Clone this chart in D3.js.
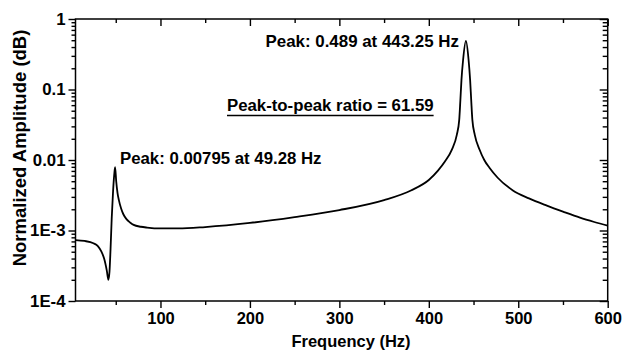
<!DOCTYPE html>
<html><head><meta charset="utf-8">
<script src="https://cdn.jsdelivr.net/npm/d3@7"></script>
<style>
html,body{margin:0;padding:0;background:#fff;}
svg text{font-family:"Liberation Sans",Arial,sans-serif;font-weight:bold;fill:#000;}
</style></head>
<body>
<svg id="chart" width="626" height="356"></svg>
<script>
// ---- data ----
const freq = [5, 15, 25, 30, 34, 37, 40, 41.8, 43, 44.2, 45.5, 47, 48.3, 49.28, 50.5, 52, 53.5, 56, 58.5, 62, 66, 70, 78, 85, 100, 120, 150, 200, 250, 300, 350, 380, 400, 410, 418, 425.8, 431.3, 434, 435.3, 436.5, 438.3, 441.5, 444.5, 446.2, 447.4, 448.7, 451.4, 456.8, 462, 468, 477, 494, 512, 532, 550, 569, 585, 600];
const amp  = [7.3e-4, 7.1e-4, 6.6e-4, 6.0e-4, 5.0e-4, 4.0e-4, 2.7e-4, 2.0e-4, 2.6e-4, 5.5e-4, 1.5e-3, 3.6e-3, 6.2e-3, 7.9e-3, 5.0e-3, 3.4e-3, 2.7e-3, 2.05e-3, 1.7e-3, 1.45e-3, 1.3e-3, 1.2e-3, 1.13e-3, 1.1e-3, 1.07e-3, 1.07e-3, 1.12e-3, 1.28e-3, 1.55e-3, 1.95e-3, 2.7e-3, 3.7e-3, 5.2e-3, 7.0e-3, 9.5e-3, 1.4e-2, 2.27e-2, 3.7e-2, 7.1e-2, 1.36e-1, 2.6e-1, 4.89e-1, 2.6e-1, 1.36e-1, 7.1e-2, 3.7e-2, 2.27e-2, 1.4e-2, 1.0e-2, 7.7e-3, 5.6e-3, 3.7e-3, 2.85e-3, 2.25e-3, 1.85e-3, 1.52e-3, 1.32e-3, 1.17e-3];
const xMajorTicks = [100, 200, 300, 400, 500, 600];
const xMinorTicks = [50, 150, 250, 350, 450, 550];
const yMajorTicks = [1e-4, 1e-3, 1e-2, 1e-1, 1];
const yTickLabels = ["1E-4", "1E-3", "0.01", "0.1", "1"];
const xTitle = "Frequency (Hz)";
const yTitle = "Normalized Amplitude (dB)";
const annotationTexts = ["Peak: 0.489 at 443.25 Hz", "Peak-to-peak ratio = 61.59", "Peak: 0.00795 at 49.28 Hz"];

// ---- layout ----
const L = 75.5, R = 607.7, T = 19, B = 301;
const svg = d3.select("#chart");
const x = d3.scaleLinear().domain([5, 600]).range([L, R]);
const y = d3.scaleLog().domain([1e-4, 1]).range([B, T]);

const yMinor = [];
for (let e = -4; e < 0; e++) for (let k = 2; k <= 9; k++) yMinor.push(k * Math.pow(10, e));

const g = svg.append("g");

// bottom axis (outward ticks)
const axB = g.append("g").attr("transform", `translate(0,${B})`);
axB.call(d3.axisBottom(x).tickValues(xMajorTicks).tickSize(7).tickPadding(4).tickFormat(d3.format("d")));
axB.append("g").call(d3.axisBottom(x).tickValues(xMinorTicks).tickSize(4).tickFormat(""));
// top axis (inward ticks)
const axT = g.append("g").attr("transform", `translate(0,${T})`);
axT.call(d3.axisBottom(x).tickValues(xMajorTicks).tickSize(7).tickFormat(""));
axT.append("g").call(d3.axisBottom(x).tickValues(xMinorTicks).tickSize(4).tickFormat(""));
// left axis (outward ticks)
const axL = g.append("g").attr("transform", `translate(${L},0)`);
axL.call(d3.axisLeft(y).tickValues(yMajorTicks).tickSize(7).tickPadding(3)
  .tickFormat((d, i) => yTickLabels[i]));
axL.append("g").call(d3.axisLeft(y).tickValues(yMinor).tickSize(4).tickFormat(""));
// right axis (inward ticks)
const axR = g.append("g").attr("transform", `translate(${R},0)`);
axR.call(d3.axisLeft(y).tickValues(yMajorTicks).tickSize(8).tickFormat(""));
axR.append("g").call(d3.axisLeft(y).tickValues(yMinor).tickSize(5).tickFormat(""));

svg.selectAll(".domain").remove();
svg.selectAll(".tick line").attr("stroke", "#000").attr("stroke-width", 1.4);
axB.selectAll(".tick text").style("font-size", "16.5px").attr("fill", "#000");
axL.selectAll(".tick text").style("font-size", "16.8px").attr("fill", "#000");

// frame
g.append("rect").attr("x", L).attr("y", T).attr("width", R - L).attr("height", B - T)
  .attr("fill", "none").attr("stroke", "#000").attr("stroke-width", 1.5);

// curve
const pts = freq.map((f, i) => [f, amp[i]]);
g.append("path").datum(pts)
  .attr("fill", "none").attr("stroke", "#000").attr("stroke-width", 1.8)
  .attr("stroke-linejoin", "round")
  .attr("d", d3.line().x(d => x(d[0])).y(d => y(d[1])).curve(d3.curveMonotoneX));

// titles
svg.append("text").attr("x", 351).attr("y", 347).attr("text-anchor", "middle")
  .style("font-size", "16.5px").text(xTitle);
svg.append("text").attr("transform", "translate(26,148) rotate(-90)").attr("text-anchor", "middle")
  .style("font-size", "18.5px").text(yTitle);

// annotations
svg.append("text").attr("x", 265.5).attr("y", 47).style("font-size", "16.9px").text(annotationTexts[0]);
const ratio = svg.append("text").attr("x", 227).attr("y", 111).style("font-size", "16.8px").text(annotationTexts[1]);
const bb = ratio.node().getBBox();
svg.append("line").attr("x1", bb.x).attr("x2", bb.x + bb.width).attr("y1", 115.5).attr("y2", 115.5)
  .attr("stroke", "#000").attr("stroke-width", 1.5);
svg.append("text").attr("x", 120).attr("y", 163.5).style("font-size", "16.8px").text(annotationTexts[2]);
</script>
</body></html>
